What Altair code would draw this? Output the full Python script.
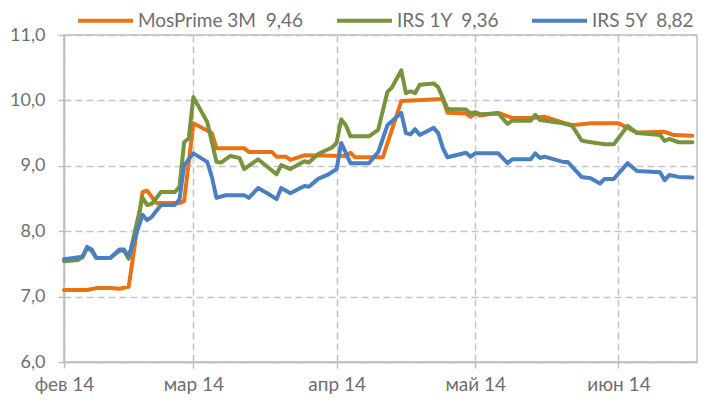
import altair as alt
import pandas as pd

series_names = ["MosPrime 3M\u00a0\u00a09,46", "IRS 1Y\u00a0\u00a09,36", "IRS 5Y\u00a0\u00a08,82"]
series_colors = ["#E97314", "#77943D", "#4A80C2"]

mos_dates = ["2014-02-01", "2014-02-06", "2014-02-08", "2014-02-11", "2014-02-13", "2014-02-15",
             "2014-02-18", "2014-02-19", "2014-02-21", "2014-02-26", "2014-02-27", "2014-03-01",
             "2014-03-05", "2014-03-06", "2014-03-12", "2014-03-13", "2014-03-18", "2014-03-19",
             "2014-03-21", "2014-03-22", "2014-03-25", "2014-04-03", "2014-04-04", "2014-04-05",
             "2014-04-11", "2014-04-15", "2014-04-24", "2014-04-25", "2014-04-29", "2014-04-30",
             "2014-05-01", "2014-05-02", "2014-05-06", "2014-05-09", "2014-05-13", "2014-05-16",
             "2014-05-20", "2014-05-22", "2014-05-26", "2014-06-01", "2014-06-03", "2014-06-05",
             "2014-06-11", "2014-06-13", "2014-06-17"]
mos_values = [7.10, 7.10, 7.13, 7.13, 7.12, 7.15,
              8.60, 8.62, 8.43, 8.43, 8.46, 9.65,
              9.50, 9.27, 9.27, 9.21, 9.21, 9.14,
              9.14, 9.09, 9.16, 9.15, 9.20, 9.13,
              9.13, 9.99, 10.02, 9.81, 9.80, 9.75,
              9.80, 9.77, 9.81, 9.73, 9.73, 9.75,
              9.66, 9.62, 9.65, 9.65, 9.58, 9.51,
              9.52, 9.47, 9.46]

irs1_dates = ["2014-02-01", "2014-02-04", "2014-02-05", "2014-02-06", "2014-02-07", "2014-02-08",
              "2014-02-11", "2014-02-13", "2014-02-14", "2014-02-15", "2014-02-18", "2014-02-19",
              "2014-02-20", "2014-02-22", "2014-02-25", "2014-02-26", "2014-02-27", "2014-02-28",
              "2014-03-01", "2014-03-04", "2014-03-06", "2014-03-07", "2014-03-09", "2014-03-11",
              "2014-03-12", "2014-03-15", "2014-03-19", "2014-03-20", "2014-03-22", "2014-03-25",
              "2014-03-26", "2014-03-28", "2014-03-31", "2014-04-01", "2014-04-02", "2014-04-03",
              "2014-04-04", "2014-04-08", "2014-04-09", "2014-04-10", "2014-04-12", "2014-04-13",
              "2014-04-15", "2014-04-16", "2014-04-17", "2014-04-18", "2014-04-19", "2014-04-22",
              "2014-04-23", "2014-04-25", "2014-04-29", "2014-04-30", "2014-05-01", "2014-05-02",
              "2014-05-06", "2014-05-08", "2014-05-09", "2014-05-13", "2014-05-14", "2014-05-15",
              "2014-05-20", "2014-05-22", "2014-05-24", "2014-05-25", "2014-05-29", "2014-05-31",
              "2014-06-03", "2014-06-05", "2014-06-10", "2014-06-11", "2014-06-12", "2014-06-14",
              "2014-06-17"]
irs1_values = [7.54, 7.56, 7.60, 7.74, 7.70, 7.59,
               7.59, 7.70, 7.70, 7.58, 8.51, 8.40,
               8.42, 8.60, 8.60, 8.68, 9.36, 9.42,
               10.05, 9.67, 9.06, 9.05, 9.15, 9.12,
               8.95, 9.10, 8.87, 9.01, 8.95, 9.07,
               9.05, 9.18, 9.28, 9.35, 9.71, 9.62,
               9.45, 9.45, 9.50, 9.55, 10.13, 10.20,
               10.46, 10.11, 10.14, 10.11, 10.24, 10.26,
               10.20, 9.87, 9.86, 9.80, 9.82, 9.79,
               9.80, 9.64, 9.69, 9.69, 9.78, 9.70,
               9.65, 9.61, 9.39, 9.37, 9.33, 9.33,
               9.61, 9.50, 9.47, 9.38, 9.41, 9.36,
               9.36]

irs5_dates = ["2014-02-01", "2014-02-05", "2014-02-06", "2014-02-07", "2014-02-08", "2014-02-11",
              "2014-02-13", "2014-02-14", "2014-02-15", "2014-02-18", "2014-02-19", "2014-02-20",
              "2014-02-22", "2014-02-25", "2014-02-26", "2014-02-27", "2014-03-01", "2014-03-04",
              "2014-03-05", "2014-03-06", "2014-03-08", "2014-03-12", "2014-03-13", "2014-03-15",
              "2014-03-17", "2014-03-19", "2014-03-20", "2014-03-22", "2014-03-25", "2014-03-26",
              "2014-03-28", "2014-03-30", "2014-04-01", "2014-04-02", "2014-04-04", "2014-04-08",
              "2014-04-10", "2014-04-12", "2014-04-15", "2014-04-16", "2014-04-17", "2014-04-18",
              "2014-04-19", "2014-04-22", "2014-04-23", "2014-04-24", "2014-04-25", "2014-04-29",
              "2014-04-30", "2014-05-01", "2014-05-06", "2014-05-08", "2014-05-09", "2014-05-13",
              "2014-05-14", "2014-05-15", "2014-05-16", "2014-05-20", "2014-05-21", "2014-05-24",
              "2014-05-26", "2014-05-28", "2014-05-29", "2014-05-31", "2014-06-03", "2014-06-05",
              "2014-06-10", "2014-06-11", "2014-06-12", "2014-06-14", "2014-06-17"]
irs5_values = [7.57, 7.61, 7.76, 7.72, 7.59, 7.59,
               7.72, 7.72, 7.61, 8.25, 8.17, 8.22,
               8.40, 8.40, 8.49, 9.01, 9.19, 9.06,
               8.83, 8.51, 8.55, 8.55, 8.51, 8.66,
               8.58, 8.49, 8.66, 8.58, 8.69, 8.68,
               8.80, 8.86, 8.95, 9.35, 9.04, 9.04,
               9.21, 9.62, 9.81, 9.50, 9.48, 9.56,
               9.47, 9.58, 9.50, 9.27, 9.13, 9.20,
               9.14, 9.19, 9.19, 9.04, 9.10, 9.10,
               9.19, 9.12, 9.14, 9.06, 9.06, 8.83,
               8.81, 8.73, 8.80, 8.80, 9.04, 8.92,
               8.90, 8.78, 8.86, 8.83, 8.82]

y_ticks = [6, 7, 8, 9, 10, 11]
month_ticks = [2, 3, 4, 5, 6]
month_labels = ["янв", "фев", "мар", "апр", "май", "июн", "июл"]

frames = []
for name, d, v in zip(series_names, [mos_dates, irs1_dates, irs5_dates],
                      [mos_values, irs1_values, irs5_values]):
    frames.append(pd.DataFrame({"date": d, "value": v, "series": name}))
df = pd.concat(frames, ignore_index=True)

FONT = "Lato"
TXT = "#6E6E6E"
GRID = "#C4C4C4"
AX = "#BFBFBF"

label_expr = ("[" + ",".join("'%s'" % m for m in month_labels) + "][utcmonth(datum.value)]"
              " + ' ' + utcFormat(datum.value, '%y')")

x_enc = alt.X(
    "date:T",
    scale=alt.Scale(type="utc",
                    domain=[alt.DateTime(year=2014, month=2, date=1, utc=True),
                            alt.DateTime(year=2014, month=6, date=18, utc=True)]),
    axis=alt.Axis(
        values=[alt.DateTime(year=2014, month=m, date=1, utc=True) for m in month_ticks],
        labelExpr=label_expr, title=None, grid=True, gridDash=[7, 4], gridColor=GRID,
        gridWidth=1.5, domainColor=AX, domainWidth=1.5, tickColor=AX, tickWidth=1.5,
        tickSize=6, labelFont=FONT, labelFontSize=19, labelColor=TXT, labelPadding=7,
        labelFlush=False, labelOverlap=False, labelBound=False),
)
y_enc = alt.Y(
    "value:Q",
    scale=alt.Scale(domain=[6, 11], nice=False, zero=False),
    axis=alt.Axis(
        values=y_ticks, labelExpr="replace(format(datum.value, '.1f'), '.', ',')",
        title=None, grid=True, gridDash=[7, 4], gridColor=GRID, gridWidth=1.5,
        domainColor=AX, domainWidth=1.5, tickColor=AX, tickWidth=1.5, tickSize=6,
        labelFont=FONT, labelFontSize=18, labelColor=TXT, labelPadding=13),
)
color_enc = alt.Color(
    "series:N",
    scale=alt.Scale(domain=series_names, range=series_colors),
    legend=alt.Legend(
        orient="none", legendX=12, legendY=-44, direction="horizontal", title=None,
        symbolType="stroke", symbolSize=3025, symbolStrokeWidth=4, labelFont=FONT,
        labelFontSize=19, labelColor=TXT, columnPadding=25, labelOffset=3,
        padding=0, labelLimit=400),
)

layers = []
for name in series_names:
    layers.append(
        alt.Chart(df)
        .transform_filter(alt.datum.series == name)
        .mark_line(strokeWidth=4, strokeJoin="round", strokeCap="round")
        .encode(x=x_enc, y=y_enc, color=color_enc)
    )

chart = (
    alt.layer(*layers)
    .properties(width=633, height=327,
                padding={"left": 56, "top": 27, "right": 2, "bottom": 36},
                autosize=alt.AutoSizeParams(type="none"),
                background="white")
    .configure_view(stroke=AX, strokeWidth=1.5)
)

chart.save("out.html", embed_options={"renderer": "svg", "actions": False})
